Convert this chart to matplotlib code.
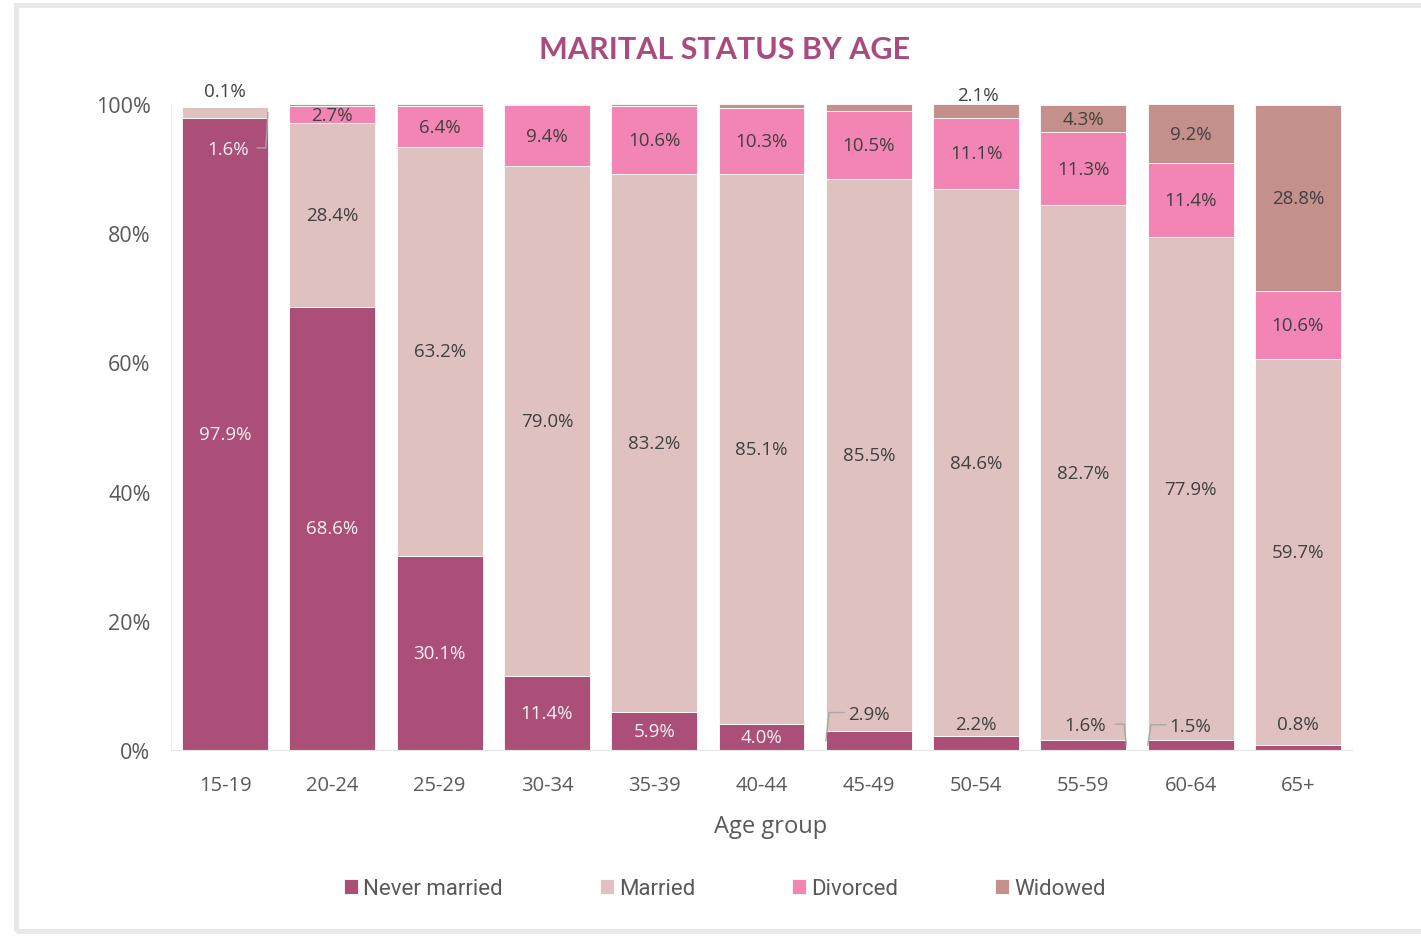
import matplotlib
matplotlib.use("Agg")
import matplotlib.pyplot as plt
from matplotlib.patches import Rectangle
import numpy as np

categories = ["15-19", "20-24", "25-29", "30-34", "35-39", "40-44",
              "45-49", "50-54", "55-59", "60-64", "65+"]
never_married = [97.9, 68.6, 30.1, 11.4, 5.9, 4.0, 2.9, 2.2, 1.6, 1.5, 0.8]
married = [1.6, 28.4, 63.2, 79.0, 83.2, 85.1, 85.5, 84.6, 82.7, 77.9, 59.7]
divorced = [0.1, 2.7, 6.4, 9.4, 10.6, 10.3, 10.5, 11.1, 11.3, 11.4, 10.6]
widowed = [0.0, 0.3, 0.3, 0.2, 0.3, 0.6, 1.1, 2.1, 4.3, 9.2, 28.8]
series_names = ["Never married", "Married", "Divorced", "Widowed"]
y_ticks = [0, 20, 40, 60, 80, 100]

colors = ["#ab4f78", "#dfc2bf", "#f285b3", "#c4908b"]
txt_dark = "#404040"
txt_light = "#f5f0f2"
tick_col = "#595959"

W, H = 1421, 937
fig = plt.figure(figsize=(W / 100, H / 100), dpi=100)
fig.patch.set_facecolor("white")

# outer frame
fig.patches.append(Rectangle((15.5 / W, 5.5 / H), 1.2, (H - 11) / H,
                             transform=fig.transFigure, fill=False,
                             edgecolor="#e8e8e8", linewidth=3.6, clip_on=False))

ax = fig.add_axes([171.4 / W, (H - 751) / H, 1180.2 / W, 646 / H])
x = np.arange(len(categories))
data = [np.array(never_married), np.array(married), np.array(divorced), np.array(widowed)]
bottom = np.zeros(len(categories))
bottoms = []
for vals, col, name in zip(data, colors, series_names):
    ax.bar(x, vals, 0.8, bottom=bottom, color=col, label=name,
           edgecolor="white", linewidth=0.6)
    bottoms.append(bottom.copy())
    bottom = bottom + vals

ax.set_xlim(-0.5, len(categories) - 0.5)
ax.set_ylim(0, 100)
ax.set_yticks(y_ticks)
ax.set_yticklabels([f"{t}%" for t in y_ticks])
ax.set_xticks(x)
ax.set_xticklabels(categories)
ax.tick_params(axis="both", length=0, colors=tick_col)
ax.tick_params(axis="y", pad=15, labelsize=15.5)
ax.tick_params(axis="x", pad=18, labelsize=14.5)
for lab in ax.get_xticklabels() + ax.get_yticklabels():
    lab.set_fontfamily("Open Sans")
for s in ["top", "right"]:
    ax.spines[s].set_visible(False)
ax.spines["left"].set_color("#ededed")
ax.spines["bottom"].set_color("#e6e6e6")
ax.set_xlabel("Age group", fontsize=17, color=tick_col, family="Open Sans")
ax.xaxis.set_label_coords((771 - 171.4) / 1180.2, -(827 - 751) / 646)
ax.xaxis.label.set_va("center")

fig.text(725 / W, (H - 50) / H, "MARITAL STATUS BY AGE", ha="center", va="center",
         fontsize=22, fontweight="bold", color="#a94c7d", family="Lato")

lab_font = dict(fontsize=13.5, family="Open Sans", ha="center", va="center")
leader_col = "#a6a6a6"

# special label placements: (series, category) -> (label y in %, label dx, leader side)
special = {
    (0, 6): (5.6, 0.0, "left"),
    (0, 7): (4.1, 0.0, None),
    (0, 8): (3.8, 0.02, "right"),
    (0, 9): (3.7, 0.0, "left"),
    (0, 10): (4.0, 0.0, None),
    (1, 0): (93.0, 0.03, "right"),
    (2, 0): (102.0, 0.0, None),
    (3, 7): (101.4, 0.02, None),
}

for si, vals in enumerate(data):
    for ci, v in enumerate(vals):
        if si == 3 and v < 4 and (si, ci) not in special:
            continue
        mid = bottoms[si][ci] + v / 2
        lab = f"{v:.1f}%"
        if (si, ci) in special:
            ly, dx, side = special[(si, ci)]
            col = txt_light if ci == 0 and si < 2 else txt_dark
            ax.text(ci + dx, ly, lab, color=col, clip_on=False, **lab_font)
            if side == "left":
                ax.plot([ci - 0.23, ci - 0.37, ci - 0.40], [ly + 0.2, ly + 0.2, mid],
                        color=leader_col, lw=1.0, clip_on=False)
            elif side == "right":
                ax.plot([ci + 0.30, ci + 0.38, ci + 0.40], [ly + 0.2, ly + 0.2, mid],
                        color=leader_col, lw=1.0, clip_on=False)
        else:
            col = txt_light if si == 0 else txt_dark
            ax.text(ci, mid, lab, color=col, **lab_font)

leg = fig.legend(loc="center", bbox_to_anchor=(725 / W, (H - 890) / H), ncol=4,
                 frameon=False, handlelength=0.62, handleheight=0.62,
                 handletextpad=0.25, columnspacing=4.35,
                 prop={"family": "Roboto", "size": 16})
for t in leg.get_texts():
    t.set_color(tick_col)

fig.savefig("out.png", dpi=100)
